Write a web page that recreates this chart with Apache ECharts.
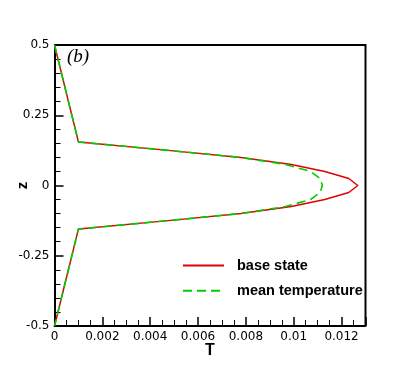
<!DOCTYPE html>
<html>
<head>
<meta charset="utf-8">
<script src="https://cdn.jsdelivr.net/npm/echarts@6/dist/echarts.min.js"></script>
<style>html,body{margin:0;padding:0;background:#fff}#c{width:415px;height:369px}</style>
</head>
<body>
<div id="c"></div>
<script>
// vertical coordinate z (shared by both profiles)
var zValues = [0.5, 0.155, 0.125, 0.1, 0.075, 0.05, 0.025, 0, -0.025, -0.05, -0.075, -0.1, -0.125, -0.155, -0.5];
// temperature of the base state
var baseState = [0, 0.00100, 0.00475, 0.00780, 0.00990, 0.01130, 0.01230, 0.01268, 0.01230, 0.01130, 0.00990, 0.00780, 0.00475, 0.00100, 0];
// mean temperature
var meanTemperature = [0, 0.00100, 0.00475, 0.00775, 0.00965, 0.01070, 0.01110, 0.01120, 0.01110, 0.01070, 0.00965, 0.00775, 0.00475, 0.00100, 0];
var seriesNames = ['base state', 'mean temperature'];
var xTicks = ['0', '0.002', '0.004', '0.006', '0.008', '0.01', '0.012'];
var yTicks = ['-0.5', '-0.25', '0', '0.25', '0.5'];
var xRange = [0, 0.013];
var zRange = [-0.5, 0.5];

function pairs(t) { return t.map(function (v, i) { return [v, zValues[i]]; }); }
function pick(list, v) { var s = list.filter(function (t) { return Math.abs(parseFloat(t) - v) < 1e-9; }); return s.length ? s[0] : ''; }

var chart = echarts.init(document.getElementById('c'), null, { renderer: 'canvas' });
chart.setOption({
  animation: false,
  grid: { left: 54.5, right: 49.5, top: 45, bottom: 43, containLabel: false, outerBoundsMode: 'none', show: false },
  xAxis: {
    type: 'value', min: xRange[0], max: xRange[1], interval: 0.002,
    name: 'T', nameLocation: 'middle', nameGap: 17, nameMoveOverlap: false,
    nameTextStyle: { fontFamily: 'Liberation Sans', fontWeight: 'bold', fontSize: 16, color: '#000' },
    axisLine: { show: true, onZero: false, lineStyle: { color: '#000', width: 2 } },
    axisTick: { show: true, inside: true, length: 9, lineStyle: { color: '#000', width: 1.5 } },
    minorTick: { show: true, splitNumber: 4, length: 6, lineStyle: { color: '#000', width: 1 } },
    axisLabel: { margin: 5, fontFamily: 'DejaVu Sans', fontSize: 12, color: '#000', formatter: function (v) { return pick(xTicks, v); } },
    splitLine: { show: false }
  },
  yAxis: {
    type: 'value', min: zRange[0], max: zRange[1], interval: 0.25,
    name: 'z', nameLocation: 'middle', nameGap: 24, nameRotate: 90, nameMoveOverlap: false,
    nameTextStyle: { fontFamily: 'Liberation Sans', fontWeight: 'bold', fontSize: 15, color: '#000' },
    axisLine: { show: true, onZero: false, lineStyle: { color: '#000', width: 2 } },
    axisTick: { show: true, inside: true, length: 9, lineStyle: { color: '#000', width: 1.5 } },
    minorTick: { show: true, splitNumber: 5, length: 6, lineStyle: { color: '#000', width: 1 } },
    axisLabel: { margin: 5, fontFamily: 'DejaVu Sans', fontSize: 12, color: '#000', formatter: function (v) { return pick(yTicks, v); } },
    splitLine: { show: false }
  },
  legend: {
    orient: 'vertical', left: 182, top: 258, padding: 0, itemWidth: 41, itemHeight: 14, itemGap: 10.3,
    itemStyle: { opacity: 0 },
    formatter: '{a|{name}}',
    textStyle: { fontFamily: 'Liberation Sans', fontWeight: 'bold', fontSize: 14.5, color: '#000',
      rich: { a: { fontFamily: 'Liberation Sans', fontWeight: 'bold', fontSize: 14.5, color: '#000', padding: [0, 0, 0, 8] } } },
    data: seriesNames
  },
  series: [{
    name: seriesNames[0], type: 'line', data: pairs(baseState), showSymbol: false, symbol: 'none',
    lineStyle: { color: '#e00000', width: 1.5 }, itemStyle: { color: '#e00000' }, z: 2
  }, {
    name: seriesNames[1], type: 'line', data: pairs(meanTemperature), showSymbol: false, symbol: 'none',
    lineStyle: { color: '#00cc00', width: 1.6, type: [9, 5] }, itemStyle: { color: '#00cc00' }, z: 3
  }]
});

// frame (top and right edges) and panel label, placed through the chart's own scales
var tl = chart.convertToPixel({ gridIndex: 0 }, [xRange[0], zRange[1]]);
var br = chart.convertToPixel({ gridIndex: 0 }, [xRange[1], zRange[0]]);
chart.setOption({
  graphic: [{
    type: 'polyline', silent: true, z: 1,
    shape: { points: [[tl[0], tl[1]], [br[0], tl[1]], [br[0], br[1]]] },
    style: { stroke: '#000', lineWidth: 2, fill: null }
  }, {
    type: 'text', left: tl[0] + 12.5, top: tl[1] + 2,
    style: { text: '(b)', font: 'italic 19px "Liberation Serif"', fill: '#000' }
  }]
});
</script>
</body>
</html>
